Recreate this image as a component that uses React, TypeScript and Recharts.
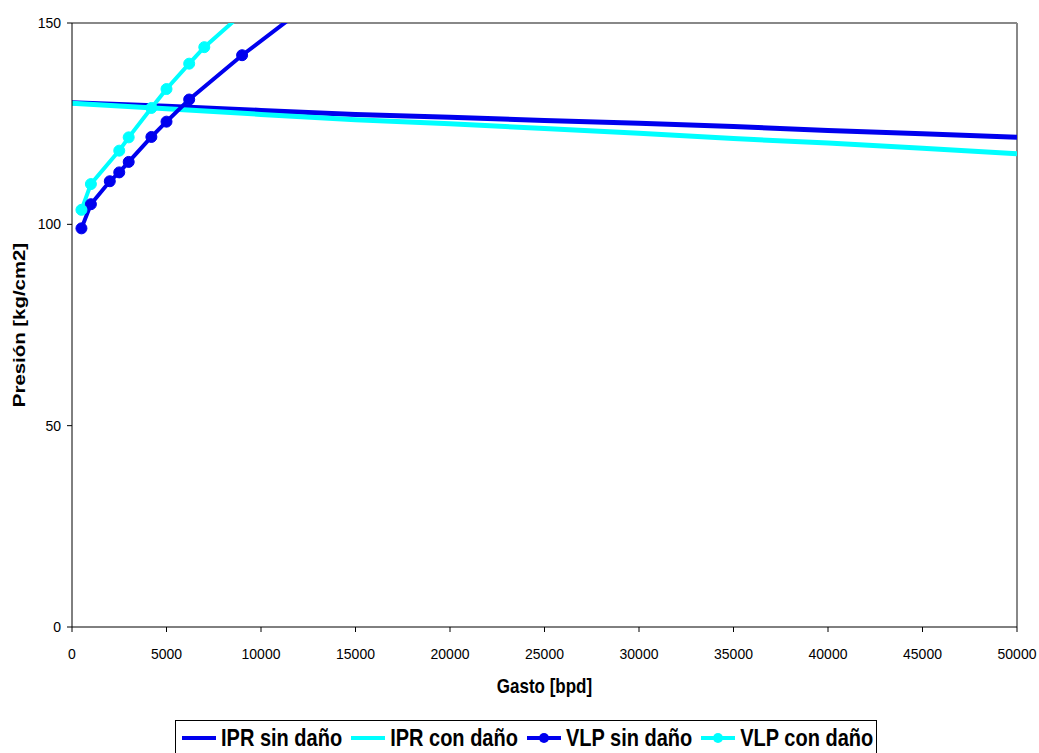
import React from 'react';
import { LineChart, Line, XAxis, YAxis, ReferenceLine, Label } from 'recharts';

// ---- data ----
const iprQ = [0, 5000, 10000, 15000, 20000, 25000, 30000, 35000, 40000, 45000, 50000];
const iprSinDano = [130.2, 129.3, 128.3, 127.3, 126.6, 125.8, 125.1, 124.3, 123.3, 122.5, 121.6];
const iprConDano = [130.1, 128.7, 127.3, 126.0, 125.0, 123.8, 122.6, 121.3, 120.2, 118.9, 117.5];

const vlpSinQ = [500, 1000, 2000, 2500, 3000, 4200, 5000, 6200, 9000, 12000];
const vlpSinP = [99.0, 105.0, 110.7, 112.9, 115.5, 121.7, 125.5, 131.0, 142.0, 152.7];

const vlpConQ = [500, 1000, 2500, 3000, 4200, 5000, 6200, 7000, 9000];
const vlpConP = [103.6, 110.0, 118.3, 121.6, 128.9, 133.6, 139.9, 144.0, 152.3];

const xTicks = [0, 5000, 10000, 15000, 20000, 25000, 30000, 35000, 40000, 45000, 50000];
const yTicks = [0, 50, 100, 150];

const seriesNames = ['IPR sin daño', 'IPR con daño', 'VLP sin daño', 'VLP con daño'];
const xTitle = 'Gasto [bpd]';
const yTitle = 'Presión [kg/cm2]';

const BLUE = '#0000EE';
const CYAN = '#00FFFF';
const FONT = "'Liberation Sans', Arial, sans-serif";

const zip = (qs: number[], ps: number[]) => qs.map((q, i) => ({ q, p: ps[i] }));
const iprSinData = zip(iprQ, iprSinDano);
const iprConData = zip(iprQ, iprConDano);
const vlpSinData = zip(vlpSinQ, vlpSinP);
const vlpConData = zip(vlpConQ, vlpConP);

const legendItems = [
  { name: seriesNames[0], color: BLUE, dot: false },
  { name: seriesNames[1], color: CYAN, dot: false },
  { name: seriesNames[2], color: BLUE, dot: true },
  { name: seriesNames[3], color: CYAN, dot: true },
];

const XTitle = (props: any) => {
  const vb = props.viewBox;
  const cx = vb.x + vb.width / 2;
  const by = vb.y + vb.height;
  return (
    <text
      transform={`translate(${cx}, ${by}) scale(1, 1.2)`}
      textAnchor="middle"
      fontFamily={FONT}
      fontWeight="bold"
      fontSize={17}
      fill="#000"
    >
      {xTitle}
    </text>
  );
};

const YTitle = (props: any) => {
  const vb = props.viewBox;
  const cy = vb.y + vb.height / 2;
  return (
    <text
      transform={`translate(25, ${cy}) rotate(-90) scale(1.2, 1)`}
      textAnchor="middle"
      fontFamily={FONT}
      fontWeight="bold"
      fontSize={17}
      fill="#000"
    >
      {yTitle}
    </text>
  );
};

const Tick = (props: any) => {
  const { x, y, payload, textAnchor, verticalAnchor } = props;
  const dy = verticalAnchor === 'start' ? 10.5 : 5;
  return (
    <text
      transform={`translate(${x}, ${y + dy}) scale(1, 1.1)`}
      textAnchor={textAnchor}
      fontFamily={FONT}
      fontSize={14}
      fill="#000"
    >
      {payload.value}
    </text>
  );
};

export default function App() {
  return (
    <div
      style={{
        position: 'relative',
        width: 1039,
        height: 753,
        overflow: 'hidden',
        background: '#fff',
      }}
    >
      <style>{`html, body { margin: 0; padding: 0; overflow: hidden; }`}</style>
      <LineChart
        width={1039}
        height={753}
        margin={{ top: 23, right: 22, bottom: 60, left: 8 }}
      >
        <XAxis
          type="number"
          dataKey="q"
          domain={[0, 50000]}
          ticks={xTicks}
          allowDataOverflow
          height={66}
          tickSize={5}
          tickMargin={16}
          stroke="#000"
          tick={<Tick />}
          interval={0}
        >
          <Label content={<XTitle />} />
        </XAxis>
        <YAxis
          type="number"
          dataKey="p"
          domain={[0, 150]}
          ticks={yTicks}
          allowDataOverflow
          width={64}
          tickSize={5}
          tickMargin={6}
          stroke="#000"
          tick={<Tick />}
          interval={0}
        >
          <Label content={<YTitle />} />
        </YAxis>
        <ReferenceLine y={150} stroke="#888" strokeWidth={2} />
        <ReferenceLine x={50000} stroke="#888" strokeWidth={2} />
        <Line
          data={iprSinData}
          dataKey="p"
          name={seriesNames[0]}
          type="linear"
          stroke={BLUE}
          strokeWidth={5}
          dot={false}
          activeDot={false}
          isAnimationActive={false}
        />
        <Line
          data={iprConData}
          dataKey="p"
          name={seriesNames[1]}
          type="linear"
          stroke={CYAN}
          strokeWidth={5}
          dot={false}
          activeDot={false}
          isAnimationActive={false}
        />
        <Line
          data={vlpSinData}
          dataKey="p"
          name={seriesNames[2]}
          type="linear"
          stroke={BLUE}
          strokeWidth={4}
          dot={{ r: 5.5, fill: BLUE, stroke: BLUE, strokeWidth: 1 }}
          activeDot={false}
          isAnimationActive={false}
        />
        <Line
          data={vlpConData}
          dataKey="p"
          name={seriesNames[3]}
          type="linear"
          stroke={CYAN}
          strokeWidth={4}
          dot={{ r: 5.5, fill: CYAN, stroke: CYAN, strokeWidth: 1 }}
          activeDot={false}
          isAnimationActive={false}
        />
      </LineChart>
      <div
        style={{
          position: 'absolute',
          left: 175,
          top: 720,
          width: 702,
          height: 50,
          boxSizing: 'border-box',
          border: '1px solid #000',
          background: '#fff',
          paddingTop: 7,
          paddingLeft: 6,
        }}
      >
        <div style={{ display: 'flex', alignItems: 'center', height: 20 }}>
          {legendItems.map((it, i) => (
            <div key={i} style={{ display: 'flex', alignItems: 'center', marginRight: 9 }}>
              <svg width={34} height={14} style={{ display: 'block' }}>
                <line x1={0} y1={7} x2={34} y2={7} stroke={it.color} strokeWidth={4} />
                {it.dot && <circle cx={17} cy={7} r={5} fill={it.color} />}
              </svg>
              <span
                style={{
                  marginLeft: 5,
                  fontFamily: FONT,
                  fontWeight: 'bold',
                  fontSize: 20,
                  lineHeight: '20px',
                  display: 'inline-block',
                  transform: 'scaleY(1.2)',
                  color: '#000',
                  whiteSpace: 'nowrap',
                }}
              >
                {it.name}
              </span>
            </div>
          ))}
        </div>
      </div>
    </div>
  );
}
